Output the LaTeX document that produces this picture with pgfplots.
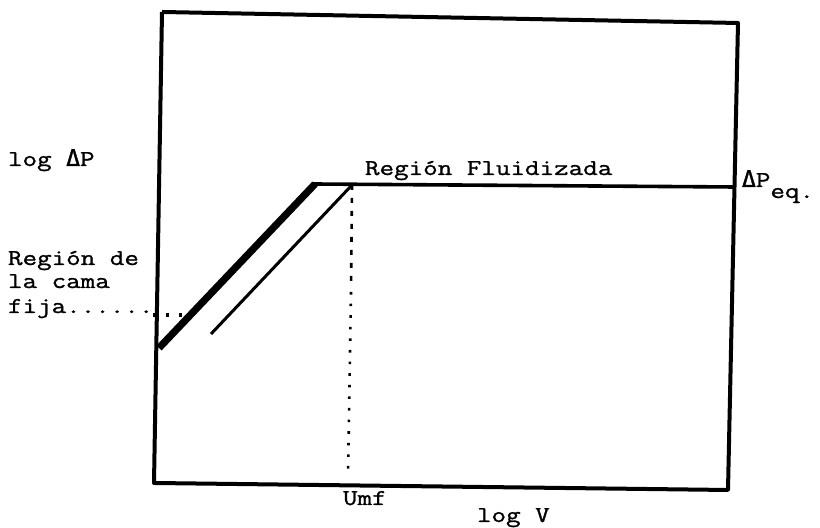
\documentclass[border=0pt]{standalone}
\usepackage{fontspec}
\setmainfont{Latin Modern Mono}[FakeBold=1.2, FakeStretch=1.25]
\newfontfamily\deltafont{DejaVu Sans Mono}[FakeBold=1.5]
\usepackage{pgfplots}
\pgfplotsset{compat=1.18}
\newcommand{\D}{{\deltafont\fontsize{11.5pt}{14pt}\selectfont Δ}}

\begin{document}
\begin{tikzpicture}[
  lbl/.style={font=\fontsize{11.3pt}{14pt}\selectfont, inner sep=0pt, outer sep=0pt, anchor=base west},
]
\begin{axis}[
  scale only axis, width=410pt, height=264pt,
  xmin=0, xmax=820, ymin=0, ymax=528,
  hide axis, clip=false,
]
% frame of the diagram
\addplot[black, line width=2pt, line join=round] coordinates
  {(162,516) (738,505) (728,38) (154,45) (162,516)};
% fixed bed branch (thick) and fluidized plateau
\addplot[black, line width=3.6pt] coordinates {(159,180) (315,344)};
\addplot[black, line width=1.8pt] coordinates {(313,344) (733,341)};
% decreasing-velocity branch (thin)
\addplot[black, line width=1.5pt] coordinates {(211,194) (352,343)};
% minimum fluidization velocity marker
\addplot[black, line width=1.3pt, dash pattern=on 2.5pt off 4pt] coordinates {(352,343) (351,240)};
\addplot[black, line width=1.3pt, dash pattern=on 1.3pt off 4.5pt] coordinates {(351,236) (348,51)};
% leader dots of the fixed bed label
\addplot[black, line width=1.6pt, dash pattern=on 1.6pt off 5pt] coordinates {(153,213) (182,213)};

\node[lbl] at (axis cs:8,362) {log \D P};
\node[lbl] at (axis cs:8,263) {Región de};
\node[lbl] at (axis cs:8,240) {la cama};
\node[lbl] at (axis cs:8,215) {fija......};
\node[lbl] at (axis cs:365,353) {Región Fluidizada};
\node[lbl] at (axis cs:742,341) {\D P\raisebox{-5.5pt}{eq.}};
\node[lbl] at (axis cs:343,23) {Umf};
\node[lbl] at (axis cs:477,6) {log V};
\end{axis}
\path (current axis.south west) rectangle (current axis.north east);
\end{tikzpicture}
\end{document}
